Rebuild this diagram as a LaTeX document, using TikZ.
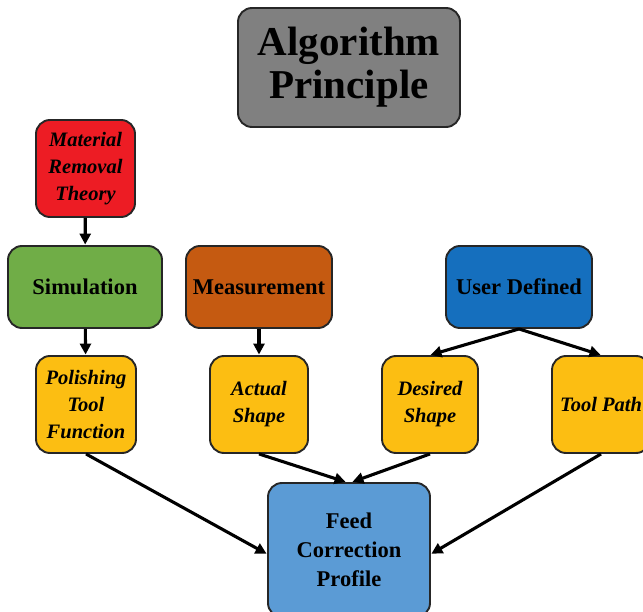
\documentclass[tikz,border=0pt]{standalone}
\usepackage{xcolor}
\usepackage{fontspec}
\setmainfont{Liberation Serif}
\usetikzlibrary{arrows.meta}
\definecolor{titlegray}{RGB}{128,128,128}
\definecolor{theoryred}{RGB}{237,28,36}
\definecolor{simgreen}{RGB}{112,173,71}
\definecolor{measbrown}{RGB}{197,90,17}
\definecolor{userblue}{RGB}{21,111,190}
\definecolor{inputyellow}{RGB}{252,190,18}
\definecolor{feedblue}{RGB}{91,155,213}

\begin{document}
\begin{tikzpicture}[x=1pt,y=-1pt,
	main node/.style={rectangle, rounded corners=14pt, draw=black!85, line width=1.9pt, align=center, inner sep=0pt, font=\fontsize{22.5}{29}\selectfont\bfseries},
	input node/.style={main node, fill=inputyellow, minimum width=98pt, minimum height=97pt, font=\fontsize{20.5}{27}\selectfont\bfseries\itshape},
	flow/.style={-{Triangle[length=11pt,width=11pt]}, line width=3.1pt, shorten >=0.5pt}]
			
			\useasboundingbox (0,0) rectangle (643,612);
			
			\node[main node, fill=titlegray, minimum width=222pt, minimum height=119pt, font=\fontsize{41}{43}\selectfont\bfseries] (1) at (349,67.5) {Algorithm\\Principle};
			\node[main node, fill=theoryred, minimum width=99pt, minimum height=97pt, font=\fontsize{20.5}{27}\selectfont\bfseries\itshape] (2) at (85.5,168.5) {Material\\Removal\\Theory};
			\node[main node, fill=simgreen, minimum width=154pt, minimum height=82pt] (3) at (85,287) {Simulation};
			\node[main node, fill=measbrown, minimum width=146pt, minimum height=82pt] (4) at (259,287) {Measurement};
			\node[main node, fill=userblue, minimum width=146pt, minimum height=82pt] (5) at (519,287) {User Defined};
			\node[input node, minimum width=100pt] (6) at (86,404.5) {Polishing\\Tool\\Function};
			\node[input node] (7) at (259,404.5) {Actual\\Shape};
			\node[input node, minimum width=96pt] (8) at (430,404.5) {Desired\\Shape};
			\node[input node] (9) at (601,404.5) {Tool Path};
			\node[main node, fill=feedblue, minimum width=162pt, minimum height=134pt] (10) at (349,550) {Feed\\Correction\\Profile};
			
			
			
			\path[flow]
			(2) edge (3)
			(3) edge (6)
			(4) edge (7)
			(5.south) edge (8.north)
			(5.south) edge (9.north)
			(7.south) edge ([xshift=-3pt]10.north)
			(8.south) edge ([xshift=3pt]10.north)
			(6.south) edge ([yshift=-4pt]10.west)
			(9.south) edge ([yshift=-4pt]10.east);
			
		\end{tikzpicture}
\end{document}
